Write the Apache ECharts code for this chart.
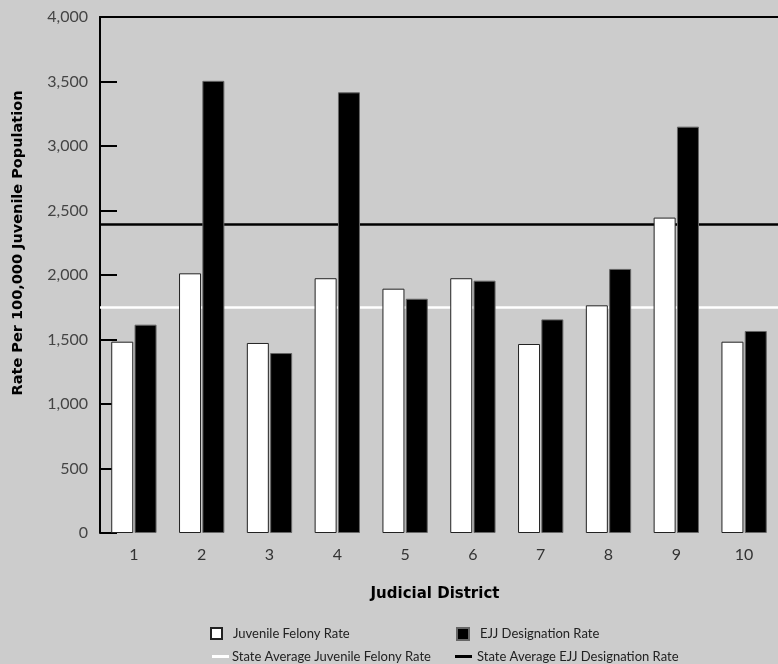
<!DOCTYPE html>
<html>
<head>
<meta charset="utf-8">
<script src="https://cdn.jsdelivr.net/npm/echarts@6/dist/echarts.min.js"></script>
<style>
html,body{margin:0;padding:0;background:#cccccc;}
#chart{width:778px;height:664px;}
</style>
</head>
<body>
<div id="chart"></div>
<script>
var districts = ['1','2','3','4','5','6','7','8','9','10'];
var juvenileFelonyRate = [1483, 2013, 1473, 1975, 1894, 1975, 1465, 1765, 2445, 1483];
var ejjDesignationRate = [1615, 3505, 1395, 3416, 1816, 1956, 1656, 2047, 3150, 1566];
var stateAvgJuvenileFelony = 1753;
var stateAvgEJJ = 2393;
var yTicks = [0, 500, 1000, 1500, 2000, 2500, 3000, 3500, 4000];

var chart = echarts.init(document.getElementById('chart'));
var FONT = 'Lato';
var BOLD = 'DejaVu Sans';
var legendText = {fontFamily: FONT, fontSize: 13, color: '#222', padding: [0,0,0,6]};

chart.setOption({
  backgroundColor: '#cccccc',
  animation: false,
  grid: {left: 100, right: -7, top: 17, bottom: 131, containLabel: false},
  legend: [
    {data: ['Juvenile Felony Rate'], left: 205, top: 622, itemWidth: 11, itemHeight: 11, icon: 'rect', textStyle: legendText, selectedMode: false},
    {data: ['EJJ Designation Rate'], left: 451, top: 622, itemWidth: 12, itemHeight: 12, icon: 'rect', textStyle: legendText, selectedMode: false},
    {data: ['State Average Juvenile Felony Rate'], left: 207, top: 645, itemWidth: 17, itemHeight: 3, icon: 'rect', textStyle: Object.assign({}, legendText, {padding:[0,0,0,-2]}), selectedMode: false},
    {data: ['State Average EJJ Designation Rate'], left: 450, top: 645, itemWidth: 17, itemHeight: 3, icon: 'rect', textStyle: Object.assign({}, legendText, {padding:[0,0,0,0]}), selectedMode: false}
  ],
  xAxis: [
    {
      type: 'category', data: districts, position: 'bottom',
      axisLine: {show: false}, axisTick: {show: false},
      axisLabel: {fontFamily: FONT, fontSize: 16, color: '#333', margin: 14}
    },
    {
      type: 'category', data: districts, position: 'top',
      axisLine: {show: true, lineStyle: {color: '#000', width: 2}},
      axisTick: {show: false}, axisLabel: {show: false}
    }
  ],
  yAxis: {
    type: 'value', min: 0, max: 4000, interval: 500,
    axisLine: {show: true, lineStyle: {color: '#000', width: 2}},
    axisTick: {show: true, inside: true, length: 17, lineStyle: {color: '#000', width: 2}},
    splitLine: {show: false},
    axisLabel: {
      fontFamily: FONT, fontSize: 16, color: '#444', margin: 12,
      formatter: function (v) { return yTicks.indexOf(v) >= 0 ? v.toLocaleString('en-US') : ''; }
    }
  },
  graphic: [
    {type: 'text', x: 18.5, y: 243, rotation: Math.PI / 2,
     style: {text: 'Rate Per 100,000 Juvenile Population', fontFamily: BOLD, fontWeight: 'bold', fontSize: 14.5, fill: '#000', align: 'center', verticalAlign: 'middle'}},
    {type: 'text', x: 435, y: 594,
     style: {text: 'Judicial District', fontFamily: BOLD, fontWeight: 'bold', fontSize: 15, fill: '#000', align: 'center', verticalAlign: 'middle'}}
  ],
  series: [
    {
      name: 'Juvenile Felony Rate', type: 'bar', data: juvenileFelonyRate,
      barWidth: 22, barGap: '6%', z: 3,
      itemStyle: {color: '#ffffff', borderColor: '#222', borderWidth: 1}
    },
    {
      name: 'EJJ Designation Rate', type: 'bar', data: ejjDesignationRate,
      barWidth: 22, barGap: '6%', z: 3,
      itemStyle: {color: '#000000', borderColor: '#666', borderWidth: 1}
    },
    {
      name: 'State Average Juvenile Felony Rate', type: 'line', data: [], z: 1,
      color: '#ffffff', itemStyle: {color: '#ffffff'}, lineStyle: {color: '#ffffff'},
      markLine: {silent: true, symbol: 'none', label: {show: false}, z: 1,
        lineStyle: {color: '#ffffff', width: 2.5, type: 'solid'},
        data: [{yAxis: stateAvgJuvenileFelony}]}
    },
    {
      name: 'State Average EJJ Designation Rate', type: 'line', data: [], z: 1,
      color: '#000000', itemStyle: {color: '#000000'}, lineStyle: {color: '#000000'},
      markLine: {silent: true, symbol: 'none', label: {show: false}, z: 1,
        lineStyle: {color: '#000000', width: 2.5, type: 'solid'},
        data: [{yAxis: stateAvgEJJ}]}
    }
  ]
});
</script>
</body>
</html>
